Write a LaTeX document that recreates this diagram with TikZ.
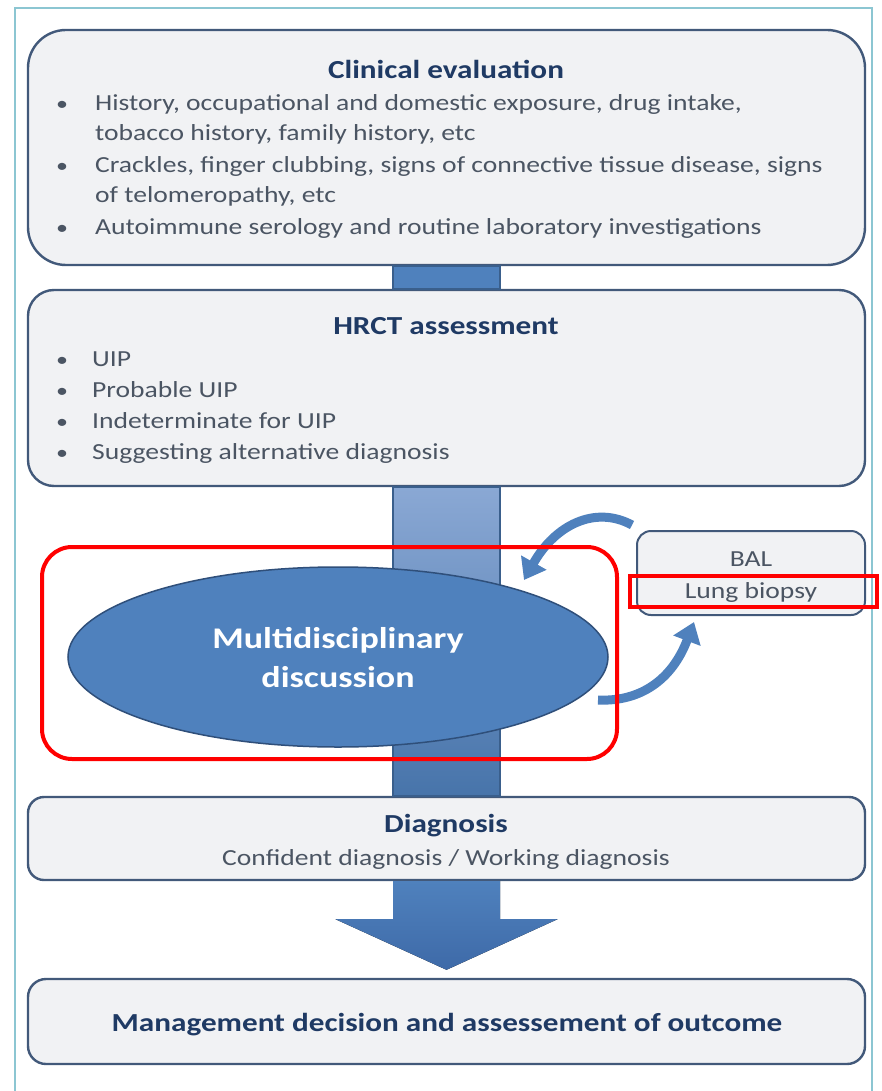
\documentclass[tikz,border=0pt]{standalone}
\usepackage{fontspec}
\setmainfont{Carlito}[FakeStretch=1.2]
\usetikzlibrary{arrows.meta,shapes.geometric}
\definecolor{boxfill}{HTML}{F1F2F4}
\definecolor{boxdraw}{HTML}{42597A}
\definecolor{titlecol}{HTML}{1F3A64}
\definecolor{bodycol}{HTML}{4B5563}
\definecolor{barfill}{HTML}{4F81BD}
\definecolor{bardraw}{HTML}{3A5F8C}
\definecolor{barlight}{HTML}{8AA8D4}
\definecolor{bardark}{HTML}{3E6AA8}
\definecolor{framecol}{HTML}{8CC6D2}
\definecolor{ellborder}{HTML}{2F4F7A}
\begin{document}
\begin{tikzpicture}[x=1pt,y=-1pt,
  panel/.style={draw=boxdraw, line width=2.4pt, fill=boxfill, inner sep=0pt},
  ttl/.style={text=titlecol, font=\fontsize{26}{30}\selectfont\bfseries, anchor=base, inner sep=0pt},
  body/.style={text=bodycol, font=\fontsize{23}{27}\selectfont, anchor=base west, inner sep=0pt},
  bul/.style={text=bodycol, font=\fontsize{20}{24}\selectfont, anchor=base, inner sep=0pt},
  redbox/.style={draw=red, line width=4pt, inner sep=0pt},
  curvearrow/.style={draw=barfill, line width=9pt, -{Triangle[length=20pt,width=28pt]}}
]
\useasboundingbox (0,0) rectangle (881,1091);
\fill[white] (0,0) rectangle (881,1091);
\draw[framecol, line width=1.2pt] (15,1091) -- (15,8) -- (872,8) -- (872,1091);

% boxes
\node[panel, rounded corners=38pt, minimum width=837pt, minimum height=235pt] (clin) at (446.5,147.5) {};
\node[panel, rounded corners=26pt, minimum width=837pt, minimum height=196pt] (hrct) at (446.5,388) {};
\node[panel, rounded corners=16pt, minimum width=837pt, minimum height=83pt] (diag) at (446.5,838.5) {};
\node[panel, rounded corners=18pt, minimum width=837pt, minimum height=85pt] (mgmt) at (446.5,1021.5) {};

% bar clin -> hrct
\draw[bardraw, line width=1.5pt, fill=barfill] ([xshift=-53.5pt]clin.south) rectangle ([xshift=53.5pt]hrct.north);
% bar hrct -> diag
\draw[bardraw, line width=1.5pt, top color=barlight, bottom color=barfill!90!black] ([xshift=-53.5pt]hrct.south) rectangle ([xshift=53.5pt]diag.north);

% down arrow diag -> mgmt
\coordinate (tip) at ([yshift=8pt]mgmt.north);
\fill[top color=barfill, bottom color=bardark]
  ([xshift=-53.5pt]diag.south) -- ([xshift=-53.5pt,yshift=-38pt]diag.south) -- ([xshift=-111pt,yshift=-38pt]diag.south)
  -- (tip) -- ([xshift=111pt,yshift=-38pt]diag.south) -- ([xshift=53.5pt,yshift=-38pt]diag.south) -- ([xshift=53.5pt]diag.south) -- cycle;

% ellipse
\node[ellipse, draw=ellborder, line width=1.5pt, fill=barfill, minimum width=540pt, minimum height=180pt, inner sep=0pt] (mdd) at (338,657) {};
\node[text=white, font=\fontsize{30}{34}\selectfont\bfseries, anchor=base, inner sep=0pt] (mddA) at (338,648) {Multidisciplinary};
\node[text=white, font=\fontsize{30}{34}\selectfont\bfseries, anchor=base, inner sep=0pt] (mddB) at (338,687) {discussion};

% BAL box
\node[panel, line width=2pt, rounded corners=14pt, minimum width=228pt, minimum height=84pt] (bal) at (751,573) {};
\node[text=bodycol, font=\fontsize{23}{27}\selectfont, anchor=base, inner sep=0pt] (balA) at (751,566) {BAL};
\node[text=bodycol, font=\fontsize{23}{27}\selectfont, anchor=base, inner sep=0pt] (balB) at (751,598) {Lung biopsy};

% curved arrows
\coordinate (a1s) at (632,525);
\coordinate (a1e) at (524,580);
\coordinate (a2s) at (598,700);
\coordinate (a2e) at (694,622);
\draw[curvearrow] (a1s) .. controls (595,505) and (555,525) .. (a1e);
\draw[curvearrow] (a2s) .. controls (640,702) and (672,680) .. (a2e);

% red highlight boxes
\node[redbox, rounded corners=30pt, minimum width=575pt, minimum height=212pt] (red1) at (329.5,653) {};
\node[redbox, minimum width=247pt, minimum height=31pt] (red2) at (753.5,591.5) {};

% Clinical evaluation text
\node[ttl] (clinT) at (446,79) {Clinical evaluation};
\node[bul] (cb1) at (62,111) {\textbullet};
\node[body] (cl1) at (95,111) {History, occupational and domestic exposure, drug intake,};
\node[body] (cl2) at (95,141) {tobacco history, family history, etc};
\node[bul] (cb2) at (62,173) {\textbullet};
\node[body] (cl3) at (95,173) {Crackles, finger clubbing, signs of connective tissue disease, signs};
\node[body] (cl4) at (95,203) {of telomeropathy, etc};
\node[bul] (cb3) at (62,234) {\textbullet};
\node[body] (cl5) at (95,234) {Autoimmune serology and routine laboratory investigations};

% HRCT text
\node[ttl] (hrctT) at (446,334) {HRCT assessment};
\node[bul] (hb1) at (62,366) {\textbullet};
\node[body] (hl1) at (92,366) {UIP};
\node[bul] (hb2) at (62,397) {\textbullet};
\node[body] (hl2) at (92,397) {Probable UIP};
\node[bul] (hb3) at (62,428) {\textbullet};
\node[body] (hl3) at (92,428) {Indeterminate for UIP};
\node[bul] (hb4) at (62,459) {\textbullet};
\node[body] (hl4) at (92,459) {Suggesting alternative diagnosis};

% Diagnosis text
\node[ttl] (diagT) at (446,832) {Diagnosis};
\node[text=bodycol, font=\fontsize{23}{27}\selectfont, anchor=base, inner sep=0pt] (diagS) at (446,865) {Confident diagnosis / Working diagnosis};

% Management text
\node[ttl] (mgmtT) at (447,1031) {Management decision and assessement of outcome};
\end{tikzpicture}
\end{document}
